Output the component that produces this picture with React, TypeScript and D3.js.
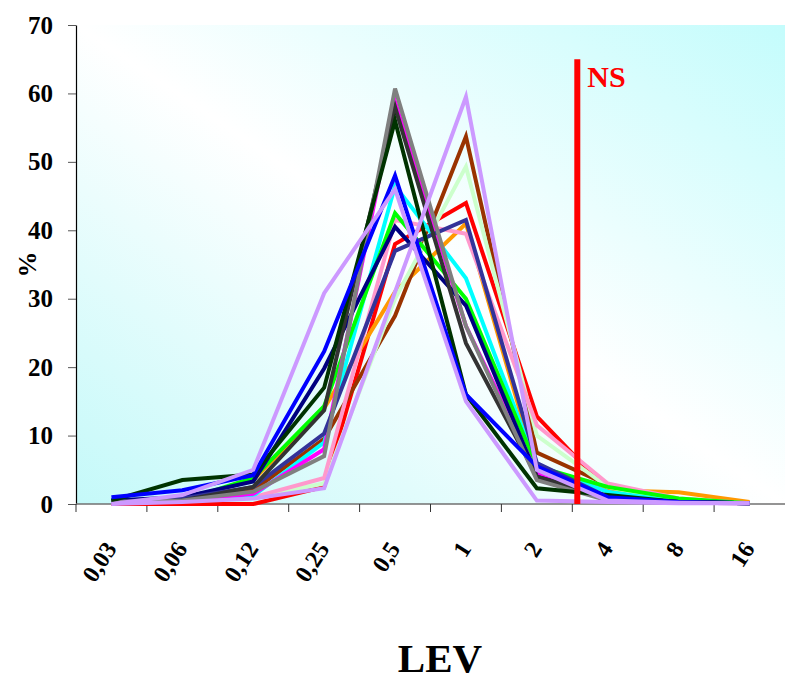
import React, { useEffect, useRef } from 'react'
import * as d3 from 'd3'

const categories = ['0,03', '0,06', '0,12', '0,25', '0,5', '1', '2', '4', '8', '16']
const yTicks = [0, 10, 20, 30, 40, 50, 60, 70]

// one row per strain group, values in % per LEV concentration
const red = [0, 0, 0, 2.5, 38, 44, 12.8, 2, 0.6, 0.1]
const orange = [0.3, 0.5, 3.5, 14, 31, 41, 5, 2, 1.7, 0.3]
const brown = [0.3, 0.5, 2, 9.5, 27.5, 53.7, 7.5, 2.8, 0.3, 0.1]
const lightGreen = [0.3, 0.5, 1, 3, 30, 49.3, 10, 2.5, 0.3, 0.1]
const pink = [0.3, 0.5, 1, 3.8, 41.5, 39.5, 11.5, 3, 0.8, 0.1]
const cyan = [0.3, 0.5, 1.2, 9, 46.5, 33, 5.5, 1.8, 0.3, 0.1]
const green = [0.3, 0.5, 3.8, 14.3, 42.5, 30, 5.5, 2.5, 0.8, 0.1]
const magenta = [0.3, 0.5, 1.5, 8, 58.8, 26, 4.5, 0.5, 0.2, 0.1]
const navy = [0.5, 1, 3.3, 19.8, 40.5, 29, 4, 1, 0.3, 0.1]
const slate = [0.3, 0.8, 2.5, 10.3, 37, 41.5, 6, 1, 0.3, 0.1]
const darkGray = [0.3, 0.5, 2.5, 13.7, 58, 23.5, 4, 1, 0.3, 0.1]
const gray = [0.3, 0.5, 1.8, 7, 60.7, 26, 3.5, 0.5, 0.2, 0.1]
const darkGreen = [0.5, 3.5, 4.3, 17, 56, 16, 2.3, 1.3, 0.3, 0.1]
const blue = [1, 2, 4.2, 22.3, 48, 16, 5.5, 1, 0.3, 0.1]
const lavenderA = [0, 1.3, 5, 30.8, 46, 15, 0.5, 0.3, 0.1, 0.1]
const lavenderB = [0, 0.3, 0.8, 2.3, 31, 59.5, 5, 0.5, 0.2, 0.1]

const series = [
    { values: red, color: '#ff0000' },
    { values: orange, color: '#ff9900' },
    { values: brown, color: '#993300' },
    { values: lightGreen, color: '#ccffcc' },
    { values: pink, color: '#ff99cc' },
    { values: cyan, color: '#00ffff' },
    { values: green, color: '#00ff00' },
    { values: magenta, color: '#ff00ff' },
    { values: navy, color: '#000080' },
    { values: slate, color: '#333399' },
    { values: darkGray, color: '#333333' },
    { values: gray, color: '#808080' },
    { values: darkGreen, color: '#003300' },
    { values: blue, color: '#0000ff' },
    { values: lavenderA, color: '#cc99ff' },
    { values: lavenderB, color: '#cc99ff' },
]

// NS breakpoint sits just after the 2|4 boundary
const nsCategory = '4'
const nsTop = 65

const App = () => {
    const node = useRef<SVGSVGElement>(null)

    useEffect(() => {
        const width = 785, height = 681
        const margin = { left: 76, right: 0, top: 25, bottom: 177 }
        const font = "'Liberation Serif', 'Times New Roman', serif"

        const svg = d3.select(node.current)
        svg.selectAll('*').remove()

        const xScale = d3.scaleBand()
            .domain(categories)
            .range([margin.left, width - margin.right])

        const yScale = d3.scaleLinear()
            .domain([0, 70])
            .range([height - margin.bottom, margin.top])

        const defs = svg.append('defs')
        const grad = defs.append('linearGradient')
            .attr('id', 'bg')
            .attr('x1', 0).attr('y1', 1)
            .attr('x2', 1).attr('y2', 0)
        grad.append('stop').attr('offset', 0).attr('stop-color', '#c4f9f9')
        grad.append('stop').attr('offset', 0.5).attr('stop-color', '#ffffff')
        grad.append('stop').attr('offset', 1).attr('stop-color', '#c4fcfc')

        svg.append('rect')
            .attr('x', margin.left)
            .attr('y', margin.top)
            .attr('width', width - margin.left - margin.right)
            .attr('height', yScale(0) - margin.top)
            .attr('fill', 'url(#bg)')

        // y axis
        const yAxis = svg.append('g')
            .attr('transform', 'translate(' + margin.left + ',0)')
            .call(d3.axisLeft(yScale).tickValues(yTicks).tickSize(8).tickPadding(15).tickSizeOuter(0))
        yAxis.select('.domain').attr('stroke', '#000').attr('stroke-width', 1.2)
        yAxis.selectAll('line').attr('stroke', '#555')
        yAxis.selectAll('text')
            .attr('font-family', font)
            .attr('font-weight', 'bold')
            .attr('font-size', 25)
            .attr('fill', '#000')

        // x axis, ticks on band edges
        const xAxis = svg.append('g')
            .attr('transform', 'translate(0,' + yScale(0) + ')')
        xAxis.append('line')
            .attr('x1', margin.left).attr('x2', width)
            .attr('stroke', '#707070').attr('stroke-width', 1.5)
        xAxis.selectAll('.tick')
            .data(categories)
            .enter()
            .append('line')
            .attr('x1', d => xScale(d)!)
            .attr('x2', d => xScale(d)!)
            .attr('y1', 0).attr('y2', 8)
            .attr('stroke', '#333')
        xAxis.selectAll('.lbl')
            .data(categories)
            .enter()
            .append('text')
            .attr('transform', d => 'translate(' + (xScale(d)! + xScale.bandwidth() / 2 - 1) + ',40) rotate(-57)')
            .attr('text-anchor', 'end')
            .attr('dy', '0.35em')
            .attr('font-family', font)
            .attr('font-weight', 'bold')
            .attr('font-size', 24)
            .text(d => d)

        const line = d3.line<number>()
            .x((d, i) => xScale(categories[i])! + xScale.bandwidth() / 2)
            .y(d => yScale(d))

        svg.append('g')
            .selectAll('path')
            .data(series)
            .enter()
            .append('path')
            .attr('d', d => line(d.values))
            .attr('fill', 'none')
            .attr('stroke', d => d.color)
            .attr('stroke-width', 4)
            .attr('stroke-linejoin', 'miter')

        // NS marker
        const nsX = xScale(nsCategory)! + 5
        svg.append('line')
            .attr('x1', nsX).attr('x2', nsX)
            .attr('y1', yScale(nsTop)).attr('y2', yScale(0))
            .attr('stroke', '#ff0000')
            .attr('stroke-width', 6)
        svg.append('text')
            .attr('x', nsX + 10)
            .attr('y', yScale(nsTop) + 28)
            .attr('font-family', font)
            .attr('font-weight', 'bold')
            .attr('font-size', 30)
            .attr('fill', '#ff0000')
            .text('NS')

        svg.append('text')
            .attr('transform', 'translate(36,' + yScale(35) + ') rotate(-90)')
            .attr('text-anchor', 'middle')
            .attr('font-family', font)
            .attr('font-weight', 'bold')
            .attr('font-size', 26)
            .text('%')

        svg.append('text')
            .attr('x', 440)
            .attr('y', 672)
            .attr('text-anchor', 'middle')
            .attr('font-family', font)
            .attr('font-weight', 'bold')
            .attr('font-size', 41)
            .text('LEV')
    }, [])

    return <svg ref={node} width={785} height={681} style={{ position: 'absolute', left: 0, top: 0 }} />
}

export default App
